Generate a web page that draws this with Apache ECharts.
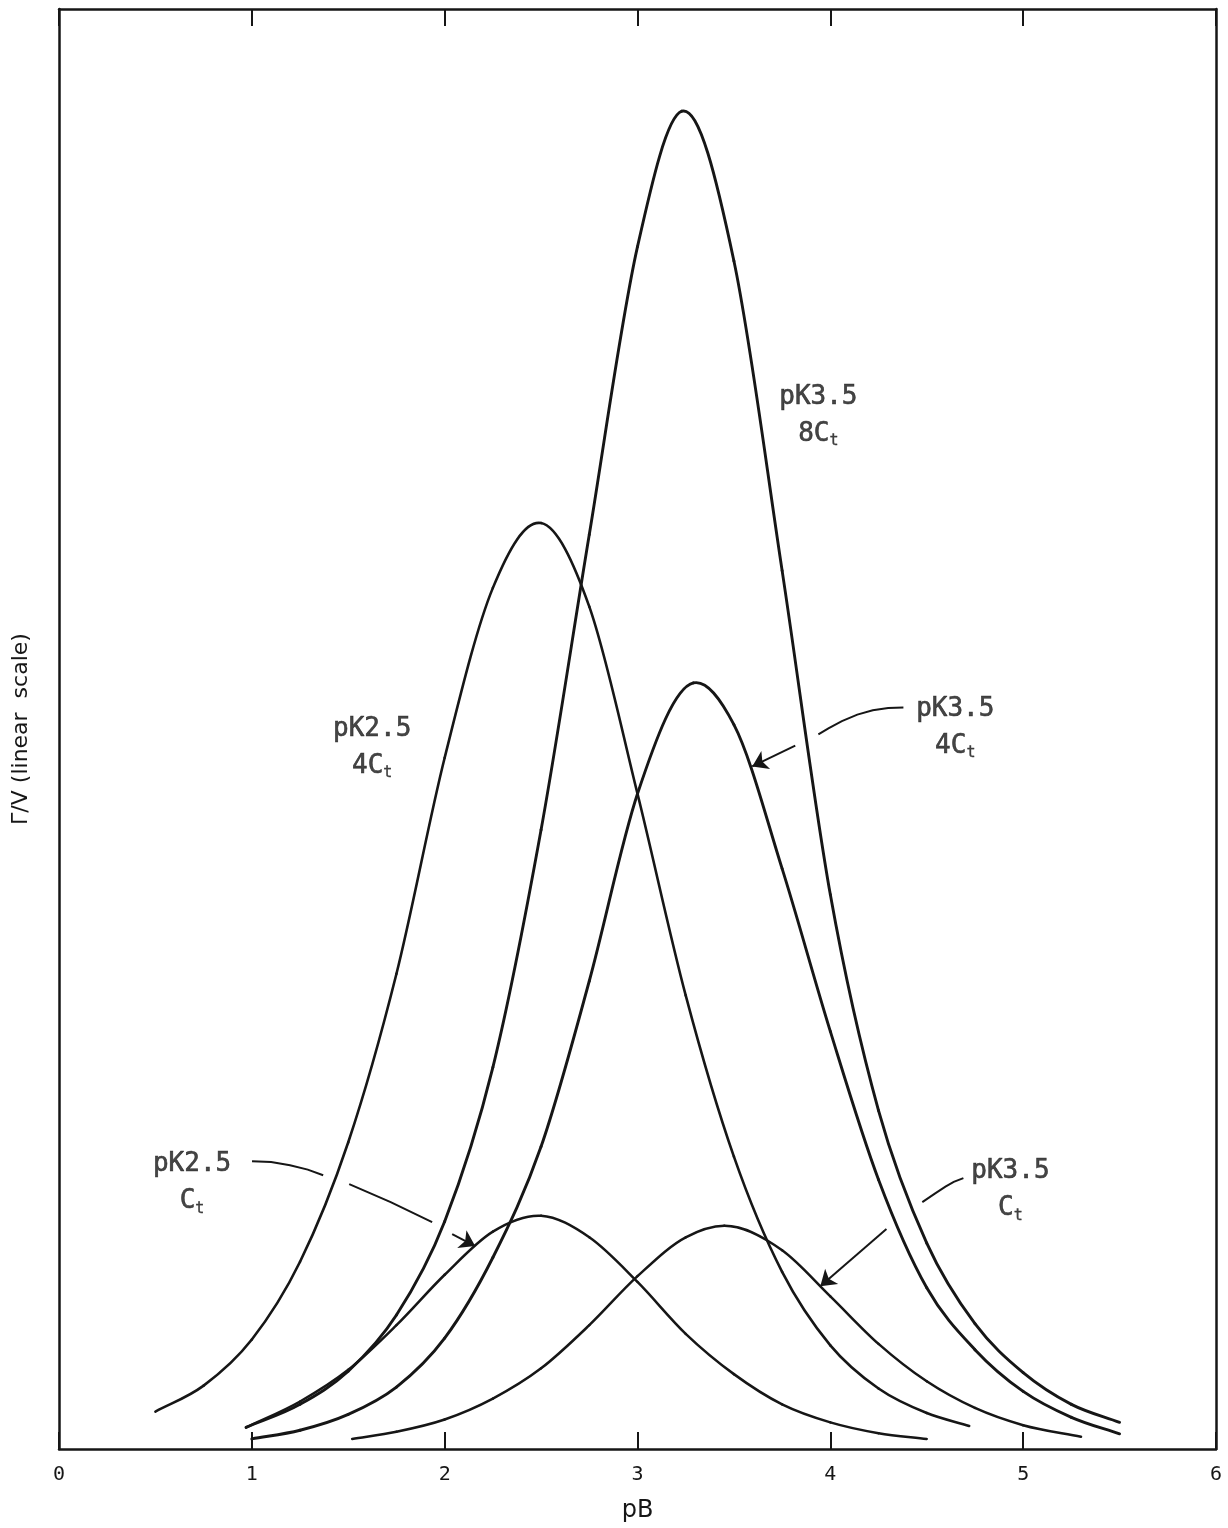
<!DOCTYPE html>
<html>
<head>
<meta charset="utf-8">
<script src="https://cdn.jsdelivr.net/npm/echarts@6/dist/echarts.min.js"></script>
<style>
  html, body { margin: 0; padding: 0; background: #ffffff; }
  #chart { width: 1228px; height: 1528px; }
</style>
</head>
<body>
<div id="chart"></div>
<script>
// pB axis ticks
const xTicks = [0, 1, 2, 3, 4, 5, 6];

// Γ/V curves, [pB, value] pairs (arbitrary linear units)
const pk25_4ct = [[0.5,2.6],[0.75,4.4],[1.0,7.6],[1.25,13.0],[1.5,21.3],[1.75,33.0],[2.0,48.0],[2.25,59.8],[2.5,64.3],[2.75,58.5],[3.0,45.5],[3.25,31.5],[3.5,20.3],[3.75,12.3],[4.0,7.2],[4.25,4.2],[4.5,2.5],[4.72,1.6]];
const pk35_8ct = [[0.97,1.5],[1.25,3.1],[1.5,5.4],[1.75,9.3],[2.0,15.8],[2.25,26.5],[2.5,43.0],[2.75,63.5],[3.0,83.5],[3.23,92.9],[3.5,82.5],[3.75,61.0],[4.0,38.5],[4.25,23.5],[4.5,14.3],[4.75,8.7],[5.0,5.3],[5.25,3.1],[5.5,1.85]];
const pk35_4ct = [[1.0,0.7],[1.25,1.3],[1.5,2.4],[1.75,4.3],[2.0,7.7],[2.25,13.3],[2.5,21.0],[2.75,32.5],[3.0,45.5],[3.29,53.2],[3.5,50.3],[3.75,40.3],[4.0,29.0],[4.25,18.7],[4.5,11.2],[4.75,6.9],[5.0,4.0],[5.25,2.2],[5.5,1.05]];
const pk25_1ct = [[0.97,1.5],[1.25,3.3],[1.5,5.5],[1.75,8.6],[2.0,12.1],[2.25,15.1],[2.5,16.2],[2.75,14.7],[3.0,11.6],[3.25,8.0],[3.5,5.2],[3.75,3.1],[4.0,1.85],[4.25,1.1],[4.5,0.7]];
const pk35_1ct = [[1.52,0.7],[1.75,1.2],[2.0,2.05],[2.25,3.5],[2.5,5.6],[2.75,8.6],[3.0,12.0],[3.25,14.7],[3.45,15.5],[3.75,13.8],[4.0,10.6],[4.25,7.3],[4.5,4.7],[4.75,2.85],[5.0,1.65],[5.3,0.85]];

// curve captions: pK line and concentration line
const captionPK = ['pK3.5', 'pK2.5', 'pK3.5', 'pK2.5', 'pK3.5'];
const captionConc = ['8C', '4C', '4C', 'C', 'C'];
// caption anchors in data coordinates
const captionAnchors = [[3.938, 71.76], [1.624, 48.72], [4.648, 50.10], [0.690, 18.46], [4.934, 17.97]];

// plain leader strokes (data coordinates)
const leaderPaths = [
  [[4.379, 51.49], [4.300, 51.45], [4.220, 51.30], [4.140, 51.00], [4.060, 50.55], [3.990, 50.05], [3.938, 49.62]],
  [[1.001, 19.99], [1.100, 19.93], [1.198, 19.71], [1.290, 19.40], [1.370, 19.01]],
  [[1.505, 18.39], [1.720, 17.15], [1.935, 15.75]],
  [[4.690, 18.81], [4.640, 18.55], [4.597, 18.22], [4.540, 17.72], [4.477, 17.14]]
];
// arrow strokes ending at the curve they point to
const arrowPaths = [
  [[3.818, 48.85], [3.595, 47.40]],
  [[2.039, 14.92], [2.158, 14.09]],
  [[4.291, 15.27], [3.948, 11.31]]
];

const INK = '#161616';
const MONO = '"DejaVu Sans Mono", "Liberation Mono", monospace';

// slope of the curve at point i (three-point estimate for uneven spacing)
function slopeAt(pts, i) {
  const n = pts.length;
  if (i === 0) return (pts[1][1] - pts[0][1]) / (pts[1][0] - pts[0][0]);
  if (i === n - 1) return (pts[n - 1][1] - pts[n - 2][1]) / (pts[n - 1][0] - pts[n - 2][0]);
  const h0 = pts[i][0] - pts[i - 1][0], h1 = pts[i + 1][0] - pts[i][0];
  const d0 = (pts[i][1] - pts[i - 1][1]) / h0, d1 = (pts[i + 1][1] - pts[i][1]) / h1;
  return (d0 * h1 + d1 * h0) / (h0 + h1);
}

// each data item draws the cubic segment from itself to the next point
function curve(pts, width) {
  return {
    type: 'custom', data: pts, encode: { x: 0, y: 1 }, z: 3, clip: true,
    renderItem: function (params, api) {
      const i = params.dataIndex;
      if (i >= pts.length - 1) return null;
      const p0 = pts[i], p1 = pts[i + 1];
      const h = p1[0] - p0[0];
      const m0 = slopeAt(pts, i), m1 = slopeAt(pts, i + 1);
      const a = api.coord(p0), b = api.coord(p1);
      const c1 = api.coord([p0[0] + h / 3, p0[1] + m0 * h / 3]);
      const c2 = api.coord([p1[0] - h / 3, p1[1] - m1 * h / 3]);
      return {
        type: 'bezierCurve',
        shape: { x1: a[0], y1: a[1], x2: b[0], y2: b[1], cpx1: c1[0], cpy1: c1[1], cpx2: c2[0], cpy2: c2[1] },
        style: { stroke: INK, lineWidth: width, fill: null, lineCap: 'round' }
      };
    }
  };
}

const chart = echarts.init(document.getElementById('chart'), null, { renderer: 'canvas' });

const axisLineStyle = { color: INK, width: 2.5 };

const option = {
  animation: false,
  backgroundColor: '#ffffff',
  grid: { left: 59, right: 12, top: 9, bottom: 78 },
  xAxis: [
    {
      type: 'value', min: xTicks[0], max: xTicks[xTicks.length - 1], interval: 1, position: 'bottom',
      axisLine: { show: true, onZero: false, lineStyle: axisLineStyle },
      axisTick: { show: true, inside: true, length: 17, lineStyle: { color: INK, width: 2 } },
      axisLabel: { show: true, margin: 16, fontSize: 20, fontFamily: MONO, color: INK },
      splitLine: { show: false },
      name: 'pB', nameLocation: 'middle', nameGap: 50,
      nameTextStyle: { fontSize: 24, fontFamily: '"DejaVu Sans", sans-serif', color: INK }
    },
    {
      type: 'value', min: xTicks[0], max: xTicks[xTicks.length - 1], interval: 1, position: 'top',
      axisLine: { show: true, onZero: false, lineStyle: axisLineStyle },
      axisTick: { show: true, inside: true, length: 17, lineStyle: { color: INK, width: 2 } },
      axisLabel: { show: false },
      splitLine: { show: false }
    }
  ],
  yAxis: [
    {
      type: 'value', min: 0, max: 100, position: 'left',
      axisLine: { show: true, onZero: false, lineStyle: axisLineStyle },
      axisTick: { show: false }, axisLabel: { show: false }, splitLine: { show: false },
      name: 'Γ/V (linear  scale)', nameLocation: 'middle', nameGap: 27, nameRotate: 90,
      nameTextStyle: { fontSize: 22, fontFamily: '"DejaVu Sans", sans-serif', color: INK }
    },
    {
      type: 'value', min: 0, max: 100, position: 'right',
      axisLine: { show: true, onZero: false, lineStyle: axisLineStyle },
      axisTick: { show: false }, axisLabel: { show: false }, splitLine: { show: false }
    }
  ],
  series: [
    curve(pk25_4ct, 2.6),
    curve(pk35_8ct, 2.9),
    curve(pk35_4ct, 2.9),
    curve(pk25_1ct, 2.5),
    curve(pk35_1ct, 2.5),
    {
      type: 'lines', coordinateSystem: 'cartesian2d', polyline: true,
      symbol: 'none',
      lineStyle: { color: INK, width: 2, opacity: 1 },
      data: leaderPaths.map(p => ({ coords: p })), z: 4
    },
    {
      type: 'lines', coordinateSystem: 'cartesian2d', polyline: false,
      symbol: ['none', 'arrow'], symbolSize: 15,
      lineStyle: { color: INK, width: 2, opacity: 1 },
      itemStyle: { color: '#2a2a2a' },
      data: arrowPaths.map(p => ({ coords: p })), z: 4
    },
    {
      type: 'scatter', symbolSize: 0, z: 5,
      data: captionAnchors.map((a) => ({ value: a })),
      label: {
        show: true, position: 'inside', align: 'center', verticalAlign: 'middle',
        formatter: (p) => '{a|' + captionPK[p.dataIndex] + '}\n{a|' + captionConc[p.dataIndex] + '}{s|t}',
        rich: {
          a: { fontSize: 26, fontFamily: MONO, color: INK, lineHeight: 37, textBorderColor: INK, textBorderWidth: 0.6 },
          s: { fontSize: 15, fontFamily: MONO, color: INK, lineHeight: 37, padding: [14, 0, 0, 0], textBorderColor: INK, textBorderWidth: 0.4 }
        }
      }
    }
  ]
};

chart.setOption(option);
</script>
</body>
</html>
